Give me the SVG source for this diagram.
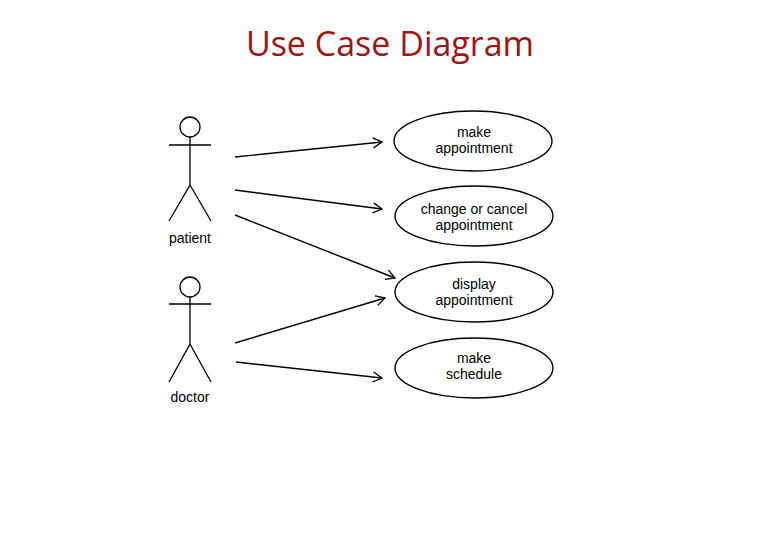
<svg xmlns="http://www.w3.org/2000/svg" width="780" height="540" viewBox="0 0 780 540">
<defs>
<marker id="arr" markerWidth="12" markerHeight="12" refX="10" refY="6" orient="auto" markerUnits="userSpaceOnUse">
<path d="M1,1 L10,6 L1,11" fill="none" stroke="#000" stroke-width="1.3"/>
</marker>
<style>
.s{fill:none;stroke:#000;stroke-width:1.3}
.uc{fill:#fff;stroke:#000;stroke-width:1.4}
.t{font-family:"Liberation Sans",Arial,sans-serif;font-size:14px;fill:#000;text-anchor:middle}
.c{fill:none;stroke:#000;stroke-width:1.4;marker-end:url(#arr)}
</style>
</defs>
<rect width="780" height="540" fill="#fff"/>
<text x="390" y="56" text-anchor="middle" font-family="'Open Sans','Liberation Sans',sans-serif" font-size="34" fill="#a01414">Use Case Diagram</text>
<g id="patient">
<circle class="s" cx="190" cy="127" r="10"/>
<path class="s" d="M169,145 H211 M190,137 V185 L169,221 M190,185 L211,221"/>
<text class="t" x="190" y="243">patient</text>
</g>
<g id="doctor">
<circle class="s" cx="190" cy="287" r="10"/>
<path class="s" d="M169,304 H211 M190,297 V344 L169,382 M190,344 L211,382"/>
<text class="t" x="190" y="402">doctor</text>
</g>
<g id="uc1"><ellipse class="uc" cx="473" cy="141" rx="79" ry="30"/><text class="t" x="474" y="137">make</text><text class="t" x="474" y="153">appointment</text></g>
<g id="uc2"><ellipse class="uc" cx="474" cy="216" rx="79" ry="30"/><text class="t" x="474" y="214">change or cancel</text><text class="t" x="474" y="230">appointment</text></g>
<g id="uc3"><ellipse class="uc" cx="474" cy="292" rx="79" ry="30"/><text class="t" x="474" y="289">display</text><text class="t" x="474" y="305">appointment</text></g>
<g id="uc4"><ellipse class="uc" cx="474" cy="368" rx="79" ry="30"/><text class="t" x="474" y="363">make</text><text class="t" x="474" y="379">schedule</text></g>
<g id="connectors">
<line class="c" x1="235" y1="157" x2="382" y2="142"/>
<line class="c" x1="235" y1="190" x2="382" y2="209"/>
<line class="c" x1="235" y1="215" x2="395" y2="278"/>
<line class="c" x1="235" y1="343" x2="385" y2="298"/>
<line class="c" x1="236" y1="362" x2="382" y2="378"/>
</g>
</svg>
